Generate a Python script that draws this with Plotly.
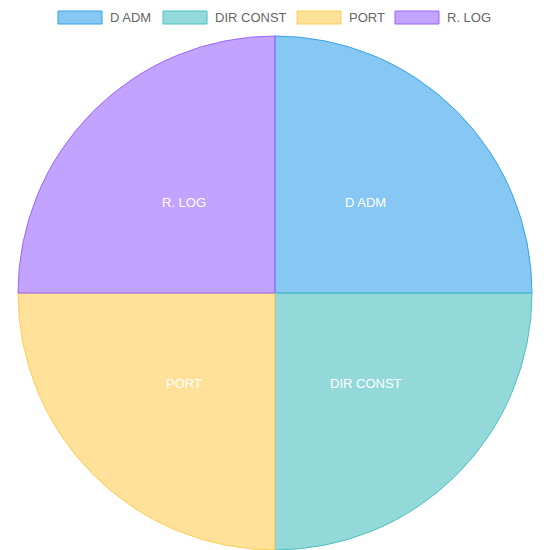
import math
import plotly.graph_objects as go

labels = ["D ADM", "DIR CONST", "PORT", "R. LOG"]
values = [1, 1, 1, 1]
fill_colors = ["rgba(54,162,235,0.6)", "rgba(75,192,192,0.6)",
               "rgba(255,205,86,0.6)", "rgba(153,102,255,0.6)"]
border_colors = ["rgb(54,162,235)", "rgb(75,192,192)",
                 "rgb(255,205,86)", "rgb(153,102,255)"]

W = H = 550
FONT = "Liberation Sans, Arial, sans-serif"
# pie geometry (pixels)
px_left, px_right, px_top, px_bottom = 18, 532, 36, 550
dom_x = [px_left / W, px_right / W]
dom_y = [1 - px_bottom / H, 1 - px_top / H]

fig = go.Figure(go.Pie(
    labels=labels, values=values, sort=False, direction="clockwise", rotation=0,
    marker=dict(colors=fill_colors, line=dict(color=border_colors, width=1)),
    textinfo="none", hoverinfo="label+value", showlegend=False,
    domain=dict(x=dom_x, y=dom_y),
))

# slice labels at half radius, mid-angle (like chartjs datalabels)
cx = (dom_x[0] + dom_x[1]) / 2
cy = (dom_y[0] + dom_y[1]) / 2
r = (dom_x[1] - dom_x[0]) / 2
total = sum(values)
cum = 0
annotations = []
for lab, v in zip(labels, values):
    mid = (cum + v / 2) / total * 2 * math.pi
    cum += v
    annotations.append(dict(
        x=cx + 0.5 * r * math.sin(mid), y=cy + 0.5 * r * math.cos(mid),
        xref="paper", yref="paper", text=lab, showarrow=False,
        font=dict(color="white", size=13, family=FONT),
        xanchor="center", yanchor="middle"))

# custom chart.js-style legend
legend_box_x = [58, 163, 297, 395]
box_w, box_top, box_bot = 44, 11, 24
shapes = []
for i, lab in enumerate(labels):
    x0 = legend_box_x[i]
    shapes.append(dict(type="rect", xref="paper", yref="paper",
                       x0=x0 / W, x1=(x0 + box_w) / W,
                       y0=1 - box_bot / H, y1=1 - box_top / H,
                       fillcolor=fill_colors[i],
                       line=dict(color=border_colors[i], width=1)))
    annotations.append(dict(
        x=(x0 + box_w + 6) / W, y=1 - 17.5 / H, xref="paper", yref="paper",
        text=lab, showarrow=False, xanchor="left", yanchor="middle",
        font=dict(color="#666666", size=13, family=FONT)))

fig.update_layout(
    width=W, height=H, margin=dict(l=0, r=0, t=0, b=0),
    paper_bgcolor="white", plot_bgcolor="white",
    shapes=shapes, annotations=annotations,
)
fig.write_html("out.html")
